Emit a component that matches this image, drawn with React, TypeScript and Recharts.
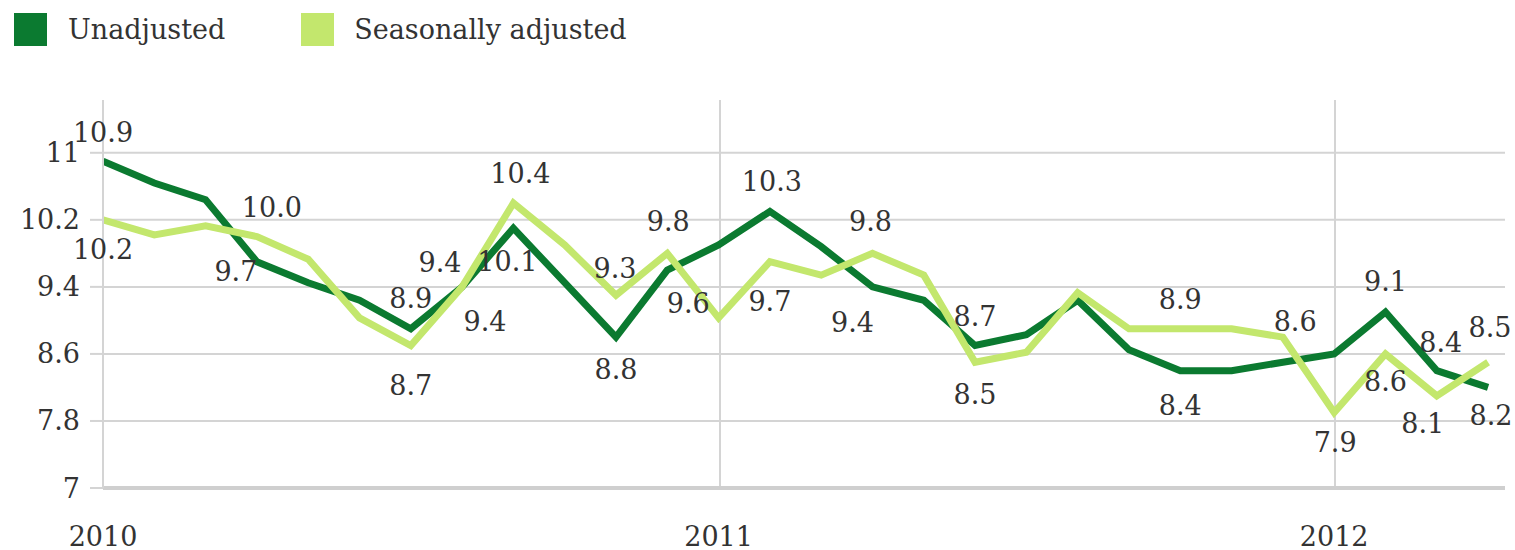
import React from 'react';
import { LineChart, Line, XAxis, YAxis, CartesianGrid } from 'recharts';

// months from Jan 2010 (index 0) to Apr 2012 (index 27)
const months = Array.from({ length: 28 }, (_, i) => i);

const unadjusted = [
  10.9, 10.64, 10.44, 9.7, 9.45, 9.24, 8.9, 9.4, 10.1, 9.45, 8.8, 9.6, 9.9, 10.3,
  9.88, 9.4, 9.24, 8.7, 8.83, 9.24, 8.65, 8.4, 8.4, 8.5, 8.6, 9.1, 8.4, 8.2,
];

const seasonallyAdjusted = [
  10.2, 10.02, 10.13, 10.0, 9.73, 9.03, 8.7, 9.4, 10.4, 9.9, 9.3, 9.8, 9.03, 9.7,
  9.54, 9.8, 9.54, 8.5, 8.62, 9.33, 8.9, 8.9, 8.9, 8.8, 7.9, 8.6, 8.1, 8.5,
];

const yTicks = [7, 7.8, 8.6, 9.4, 10.2, 11];
const yearTicks = [0, 12, 24];
const yearLabels = ['2010', '2011', '2012'];

const Y_MIN = 7;
const Y_MAX = 11.63;

const DARK = '#0b7a30';
const LIGHT = '#c3e76d';
const TEXT = '#333';
const FONT = '"DejaVu Serif", "Liberation Serif", serif';

const data = months.map(m => ({
  m,
  unadjusted: unadjusted[m],
  adjusted: seasonallyAdjusted[m],
}));

// label placement (dx, dy from the point) for the labelled months
const darkLabelOffsets: Record<number, [number, number]> = {
  0: [0, -29], 3: [-21, 10], 6: [0, -30], 7: [-22, -24], 8: [-6, 33], 10: [0, 32],
  11: [21, 33], 13: [2, -30], 15: [-20, 36], 17: [0, -29], 21: [0, 35], 24: [-39, -32],
  25: [0, -31], 26: [4, -28], 27: [3, 28],
};
const lightLabelOffsets: Record<number, [number, number]> = {
  0: [0, 30], 3: [15, -29], 6: [0, 40], 7: [23, 35], 8: [7, -30], 10: [-1, -27],
  11: [1, -32], 13: [0, 40], 15: [-2, -32], 17: [0, 32], 21: [0, -29], 24: [1, 30],
  25: [0, 28], 26: [-14, 28], 27: [2, -35],
};

function makeLabel(offsets: Record<number, [number, number]>) {
  return (props: any) => {
    const { x, y, index, value } = props;
    const off = offsets[index];
    if (!off) return null;
    return (
      <text
        key={index}
        x={x + off[0]}
        y={y + off[1]}
        textAnchor="middle"
        dominantBaseline="central"
        fontFamily={FONT}
        fontSize={27}
        fill={TEXT}
      >
        {Number(value).toFixed(1)}
      </text>
    );
  };
}

function YearTick(props: any) {
  const { x, y, payload } = props;
  const i = yearTicks.indexOf(payload.value);
  return (
    <text x={x} y={y + 40} textAnchor="middle" dominantBaseline="central" fontFamily={FONT} fontSize={27} fill={TEXT}>
      {yearLabels[i]}
    </text>
  );
}

function ValueTick(props: any) {
  const { x, y, payload } = props;
  return (
    <text x={x - 8} y={y} textAnchor="end" dominantBaseline="central" fontFamily={FONT} fontSize={27} fill={TEXT}>
      {payload.value}
    </text>
  );
}

// grid only at the y ticks (no line at the top edge of the plot)
function gridRows({ offset }: any) {
  return yTicks.map(t => offset.top + offset.height * (1 - (t - Y_MIN) / (Y_MAX - Y_MIN)));
}

export default function App() {
  return (
    <div style={{ position: 'absolute', left: 0, top: 0, width: 1515, height: 550, background: '#fff' }}>
      <div style={{ position: 'absolute', left: 14, top: 13, display: 'flex', alignItems: 'center', fontFamily: FONT, fontSize: 27, color: TEXT }}>
        <span style={{ width: 33, height: 33, background: DARK, display: 'inline-block' }} />
        <span style={{ marginLeft: 21 }}>Unadjusted</span>
        <span style={{ width: 33, height: 33, background: LIGHT, display: 'inline-block', marginLeft: 76 }} />
        <span style={{ marginLeft: 20 }}>Seasonally adjusted</span>
      </div>
      <div style={{ position: 'absolute', left: 0, top: 0 }}>
        <LineChart width={1515} height={550} data={data} margin={{ top: 100, right: 10, left: 0, bottom: 0 }}>
          <CartesianGrid
            stroke="#d4d4d4"
            strokeWidth={2}
            verticalPoints={[720, 1335]}
            horizontalCoordinatesGenerator={gridRows}
          />
          <XAxis
            dataKey="m"
            type="number"
            domain={[0, 27.33]}
            ticks={yearTicks}
            height={62}
            tickLine={false}
            axisLine={{ stroke: '#cfcfcf', strokeWidth: 4 }}
            tick={<YearTick />}
            allowDataOverflow
          />
          <YAxis
            type="number"
            domain={[Y_MIN, Y_MAX]}
            ticks={yTicks}
            width={103}
            tickSize={13}
            tickLine={{ stroke: '#d4d4d4', strokeWidth: 2 }}
            axisLine={{ stroke: '#d4d4d4', strokeWidth: 2 }}
            tick={<ValueTick />}
            allowDataOverflow
          />
          <Line
            dataKey="unadjusted"
            stroke={DARK}
            strokeWidth={7}
            dot={false}
            isAnimationActive={false}
            label={makeLabel(darkLabelOffsets)}
          />
          <Line
            dataKey="adjusted"
            stroke={LIGHT}
            strokeWidth={7}
            dot={false}
            isAnimationActive={false}
            label={makeLabel(lightLabelOffsets)}
          />
        </LineChart>
      </div>
    </div>
  );
}
